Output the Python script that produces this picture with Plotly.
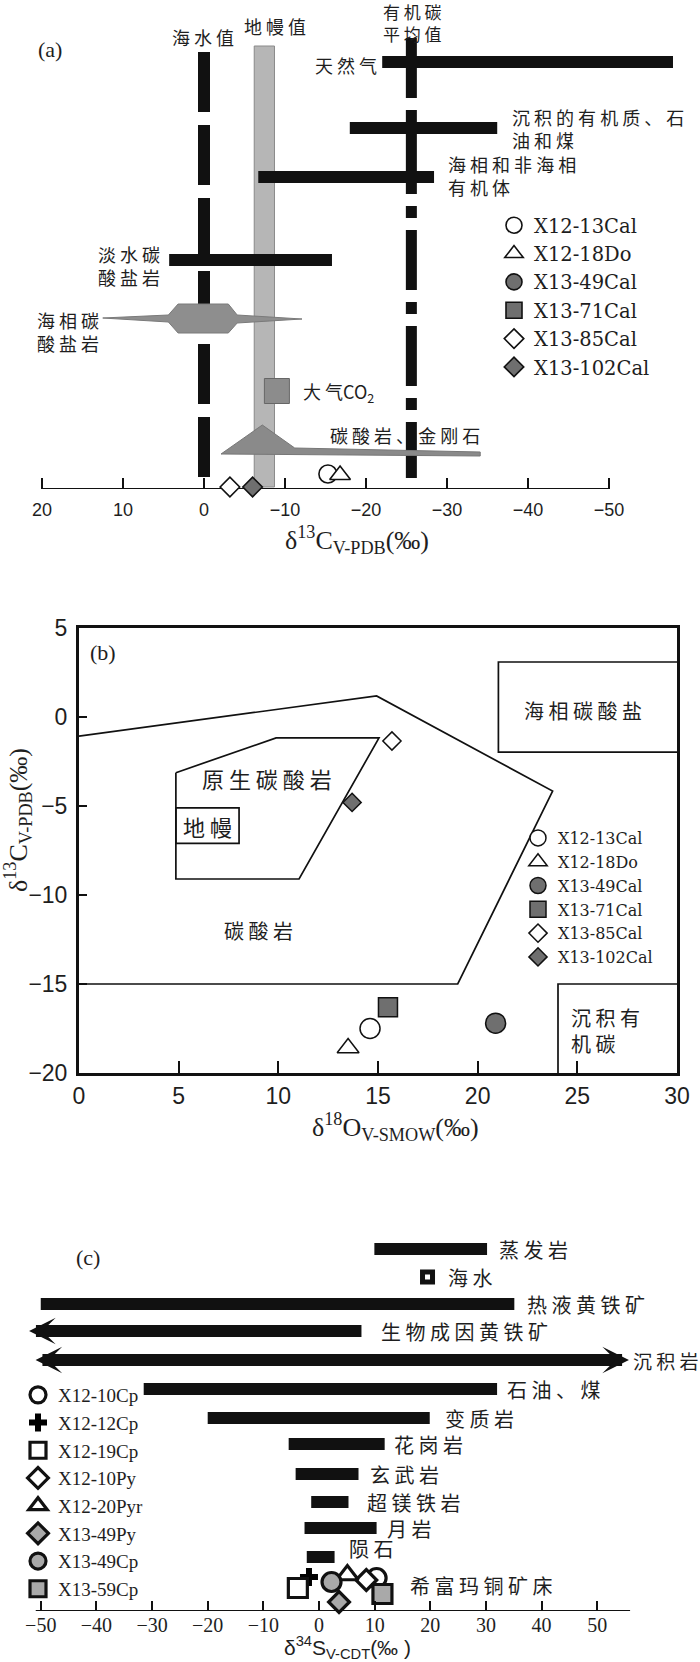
import plotly.graph_objects as go

# ============================================================
# Isotope diagrams (a) d13C  (b) d13C-d18O  (c) d34S
# ============================================================

W, H = 700, 1662

CJK = "Noto Sans CJK SC"
SERIF = "Liberation Serif"
SANS = "Liberation Sans"
INK = "#1e1e1e"

# -------------------------------------------------------
# (a) d13C reference values / ranges
# -------------------------------------------------------
a_range_labels = ["天然气", "沉积的有机质、石<br>油和煤", "海相和非海相<br>有机体", "淡水碳<br>酸盐岩"]
a_range_start = [-22.0, -18.0, -6.7, 4.3]
a_range_end = [-57.9, -36.2, -28.4, -15.8]

a_seawater = 0.0
a_mantle = [-6.2, -8.7]
a_organic_mean = -25.6
a_atm_co2 = -9.0

# gray spindles: marine carbonate and carbonatite / diamond
a_marine_d13c = [12.5, 4.4, 3.2, -3.0, -4.1, -12.1, -4.1, -3.0, 3.2, 4.4, 12.5]
a_marine_h = [171, 174, 185, 185, 174, 170, 166, 156, 156, 167, 171]
a_carbonatite_d13c = [-2.1, -7.2, -11.2, -34.1, -34.1, -2.1]
a_carbonatite_h = [35, 64, 41, 37, 33, 35]

a_ticks = [20, 10, 0, -10, -20, -30, -40, -50]

# samples
a_samples = ["X12-13Cal", "X12-18Do", "X13-49Cal", "X13-71Cal", "X13-85Cal", "X13-102Cal"]
a_d13c = [-15.3, -16.8, -16.4, -14.0, -3.2, -6.0]

# -------------------------------------------------------
# (b) d13C vs d18O
# -------------------------------------------------------
b_samples = a_samples
b_d18o = [14.6, 13.5, 20.9, 15.5, 15.7, 13.7]
b_d13c = [-17.5, -18.6, -17.2, -16.3, -1.35, -4.8]

b_carbonatite_x = [0, 14.93, 23.76, 19.0, 0]
b_carbonatite_y = [-1.07, 1.18, -4.16, -15.0, -15.0]
b_primary_x = [4.86, 9.89, 15.05, 11.04, 4.86, 4.86]
b_primary_y = [-3.13, -1.17, -1.17, -9.1, -9.1, -3.13]
b_mantle_x = [4.86, 8.03, 8.03, 4.86, 4.86]
b_mantle_y = [-5.1, -5.1, -7.1, -7.1, -5.1]
b_marine_x = [30, 21.04, 21.04, 30]
b_marine_y = [3.09, 3.09, -1.97, -1.97]
b_sedorg_x = [24.03, 24.03, 30]
b_sedorg_y = [-20, -15, -15]

# -------------------------------------------------------
# (c) d34S reference ranges and samples
# -------------------------------------------------------
c_range_labels = ["蒸发岩", "热液黄铁矿", "石油、煤", "变质岩", "花岗岩", "玄武岩", "超镁铁岩", "月岩", "陨石"]
c_range_start = [9.95, -50.0, -31.5, -20.0, -5.45, -4.2, -1.4, -2.6, -2.2]
c_range_end = [30.2, 35.1, 32.0, 19.9, 11.8, 7.1, 5.3, 10.35, 2.8]

c_seawater = 19.5
c_biogenic = [7.9, -52.1]      # open to the negative side
c_sediment = [-51.2, 55.7]     # open to both sides

c_ticks = [-50, -40, -30, -20, -10, 0, 10, 20, 30, 40, 50]

c_samples = ["X12-10Cp", "X12-12Cp", "X12-19Cp", "X12-10Py", "X12-20Pyr", "X13-49Py", "X13-49Cp", "X13-59Cp"]
c_d34s = [10.35, -1.8, -3.8, 8.5, 5.1, 3.6, 2.25, 11.4]

# -------------------------------------------------------
# layout helpers (vertical placement only)
# -------------------------------------------------------
A_AXIS_PX = 489          # pixel row of the (a) axis line
C_AXIS_PX = 1611         # pixel row of the (c) axis line
A_ROWS = [427, 361, 312, 229]
A_SAMPLE_ROWS = [15, 14, -1, -8, 2, 2]
C_ROWS = [362, 307, 222, 193, 167, 137, 109, 83, 54]
C_SAMPLE_ROWS = [33, 34, 23, 31, 36, 9, 29, 17]

GRAY_A = "#6f6f6f"
GRAY_C = "#a9a9a9"

STYLE_A = {
    "X12-13Cal": ("circle", "white", 18),
    "X12-18Do": ("triangle-up", "white", 18),
    "X13-49Cal": ("circle", GRAY_A, 19),
    "X13-71Cal": ("square", GRAY_A, 16),
    "X13-85Cal": ("diamond", "white", 15),
    "X13-102Cal": ("diamond", GRAY_A, 15),
}
STYLE_B = {
    "X12-13Cal": ("circle", "white", 20),
    "X12-18Do": ("triangle-up", "white", 19),
    "X13-49Cal": ("circle", GRAY_A, 20),
    "X13-71Cal": ("square", GRAY_A, 19),
    "X13-85Cal": ("diamond", "white", 14),
    "X13-102Cal": ("diamond", GRAY_A, 14),
}
STYLE_C = {
    "X12-10Cp": ("circle", "white", 19),
    "X12-12Cp": ("cross", "black", 15),
    "X12-19Cp": ("square", "white", 19),
    "X12-10Py": ("diamond", "white", 16),
    "X12-20Pyr": ("triangle-up", "white", 19),
    "X13-49Py": ("diamond", GRAY_C, 16),
    "X13-49Cp": ("circle", GRAY_C, 19),
    "X13-59Cp": ("square", GRAY_C, 19),
}


def spaced(text):
    return "<br>".join(" ".join(line) for line in text.split("<br>"))


def segments(starts, ends, rows):
    xs, ys = [], []
    for s, e, r in zip(starts, ends, rows):
        xs += [s, e, None]
        ys += [r, r, None]
    return xs, ys


fig = go.Figure()

# ============================================================
# (a)
# ============================================================
fig.add_trace(go.Scatter(
    x=[a_mantle[0], a_mantle[1], a_mantle[1], a_mantle[0], a_mantle[0]],
    y=[2, 2, 443, 443, 2], fill="toself", mode="lines",
    fillcolor="#b6b6b6", line=dict(color="#8a8a8a", width=1),
    showlegend=False, hoverinfo="skip", xaxis="x", yaxis="y"))

fig.add_trace(go.Scatter(
    x=[a_seawater, a_seawater], y=[437, 11], mode="lines",
    line=dict(color="#111", width=12, dash="60px,13px"),
    showlegend=False, hoverinfo="skip", xaxis="x", yaxis="y"))
fig.add_trace(go.Scatter(
    x=[a_organic_mean, a_organic_mean], y=[451, 11], mode="lines",
    line=dict(color="#111", width=11, dash="60px,12px,12px,12px"),
    showlegend=False, hoverinfo="skip", xaxis="x", yaxis="y"))

bx, by = segments(a_range_start, a_range_end, A_ROWS)
fig.add_trace(go.Scatter(
    x=bx, y=by, mode="lines", line=dict(color="#111", width=12),
    showlegend=False, hoverinfo="skip", xaxis="x", yaxis="y"))

fig.add_trace(go.Scatter(
    x=a_marine_d13c, y=a_marine_h, fill="toself", mode="lines",
    fillcolor="#8e8e8e", line=dict(color="#7a7a7a", width=1),
    showlegend=False, hoverinfo="skip", xaxis="x", yaxis="y"))
fig.add_trace(go.Scatter(
    x=a_carbonatite_d13c, y=a_carbonatite_h, fill="toself", mode="lines",
    fillcolor="#8a8a8a", line=dict(color="#777", width=1),
    showlegend=False, hoverinfo="skip", xaxis="x", yaxis="y"))
fig.add_trace(go.Scatter(
    x=[a_atm_co2], y=[98], mode="markers",
    marker=dict(symbol="square", size=25, color="#8c8c8c", line=dict(color="#666", width=1)),
    showlegend=False, hoverinfo="skip", xaxis="x", yaxis="y"))

# axis line of (a)
fig.add_trace(go.Scatter(
    x=[a_ticks[0], a_ticks[-1]], y=[0, 0], mode="lines",
    line=dict(color="#111", width=2), showlegend=False, hoverinfo="skip",
    xaxis="x", yaxis="y"))

for name, v, r in zip(a_samples, a_d13c, A_SAMPLE_ROWS):
    sym, col, size = STYLE_A[name]
    fig.add_trace(go.Scatter(
        x=[v], y=[r], mode="markers", name=name, legend="legend",
        marker=dict(symbol=sym, size=size, color=col, line=dict(color="#111", width=1.6)),
        cliponaxis=False, xaxis="x", yaxis="y"))

# ============================================================
# (b)
# ============================================================
for xs, ys in [(b_carbonatite_x, b_carbonatite_y), (b_primary_x, b_primary_y),
               (b_mantle_x, b_mantle_y), (b_marine_x, b_marine_y),
               (b_sedorg_x, b_sedorg_y)]:
    fig.add_trace(go.Scatter(
        x=xs, y=ys, mode="lines", line=dict(color="#111", width=1.7),
        showlegend=False, hoverinfo="skip", xaxis="x2", yaxis="y2"))

for name, xo, yc in zip(b_samples, b_d18o, b_d13c):
    sym, col, size = STYLE_B[name]
    fig.add_trace(go.Scatter(
        x=[xo], y=[yc], mode="markers", name=name, legend="legend2",
        marker=dict(symbol=sym, size=size, color=col, line=dict(color="#111", width=1.5)),
        cliponaxis=False, xaxis="x2", yaxis="y2"))

# ============================================================
# (c)
# ============================================================
cx, cy = segments(c_range_start, c_range_end, C_ROWS)
fig.add_trace(go.Scatter(
    x=cx, y=cy, mode="lines", line=dict(color="#111", width=12),
    showlegend=False, hoverinfo="skip", xaxis="x3", yaxis="y3"))
fig.add_trace(go.Scatter(
    x=[c_seawater], y=[334], mode="markers",
    marker=dict(symbol="square-open", size=10, color="#111", line=dict(width=5)),
    showlegend=False, hoverinfo="skip", xaxis="x3", yaxis="y3"))
fig.add_trace(go.Scatter(
    x=[c_ticks[0] - 0.9, 55.9], y=[0, 0], mode="lines",
    line=dict(color="#111", width=2), showlegend=False, hoverinfo="skip",
    xaxis="x3", yaxis="y3"))

for name, v, r in zip(c_samples, c_d34s, C_SAMPLE_ROWS):
    sym, col, size = STYLE_C[name]
    lw = 0 if sym == "cross" else 3.2
    fig.add_trace(go.Scatter(
        x=[v], y=[r], mode="markers", name=name, legend="legend3",
        marker=dict(symbol=sym, size=size, color=col, line=dict(color="#111", width=lw)),
        cliponaxis=False, xaxis="x3", yaxis="y3"))

# ============================================================
# annotations
# ============================================================
ann = []


def label(text, x, y, ref, size=18, anchor="left", font=CJK, align="left", angle=0):
    ann.append(dict(text=text, x=x, y=y, xref="x" + ref, yref="y" + ref,
                    showarrow=False, xanchor=anchor, yanchor="middle", align=align,
                    textangle=angle, font=dict(family=font, size=size, color=INK)))


def py(px):
    return 1 - px / H


def title(text, xpx, ypx, size, font, angle=0, yanchor="middle"):
    ann.append(dict(text=text, x=xpx / W, y=py(ypx), xref="paper", yref="paper",
                    showarrow=False, xanchor="center", yanchor=yanchor,
                    textangle=angle, font=dict(family=font, size=size, color=INK)))


# (a) labels
label(spaced("海水值"), 0.1, 452, "", anchor="center")
label(spaced("地幔值"), -8.8, 463, "", anchor="center")
label(spaced("有机碳<br>平均值"), -25.7, 467, "", size=17, anchor="center", align="center")
label("(a)", 20.7, 440, "", size=22, font=SERIF)
label(spaced(a_range_labels[0]), -21.6, 424, "", anchor="right")
label(spaced(a_range_labels[1]), -37.8, 361, "")
label(spaced(a_range_labels[2]), -29.9, 314, "")
label(spaced(a_range_labels[3]), 5.2, 224, "", anchor="right", align="left")
label(spaced("海相碳<br>酸盐岩"), 12.7, 158, "", anchor="right", align="left")
label("大 气CO<sub>2</sub>", -12.0, 97, "")
label(spaced("碳酸岩、金刚石"), -15.3, 54, "")
title("δ<sup>13</sup>C<sub>V-PDB</sub>(‰)", 357, 540, 26, SERIF)

# (b) labels
label("(b)", 0.45, 3.6, "2", size=22, font=SERIF)
label(spaced("原生碳酸岩"), 9.43, -3.43, "2", size=22, anchor="center")
label(spaced("地幔"), 6.45, -6.12, "2", size=22, anchor="center")
label(spaced("碳酸岩"), 8.98, -11.97, "2", size=20, anchor="center")
label(spaced("海相碳酸盐"), 25.3, 0.34, "2", size=20, anchor="center")
label(spaced("沉积有<br>机碳"), 24.6, -17.64, "2", size=20)
title("δ<sup>18</sup>O<sub>V-SMOW</sub>(‰)", 395, 1127, 26, SERIF)
title("δ<sup>13</sup>C<sub>V-PDB</sub>(‰)", 18, 820, 26, SERIF, angle=-90)

# (c) labels
label("(c)", -44.0, 354, "3", size=22, font=SERIF)
c_label_x = [32.0, 37.0, 33.5, 22.2, 13.1, 8.8, 8.2, 11.9, 5.1]
c_label_y = [362, 307, 222, 193, 167, 137, 109, 83, 63]
for t, lx, ly in zip(c_range_labels, c_label_x, c_label_y):
    label(spaced(t), lx, ly, "3", size=20)
label(spaced("海水"), 22.9, 334, "3", size=20)
label(spaced("生物成因黄铁矿"), 10.8, 280, "3", size=20)
label(spaced("沉积岩"), 56.1, 251, "3", size=19)
label(spaced("希富玛铜矿床"), 16.0, 26, "3", size=20)
title("δ<sup>34</sup>S<sub>V-CDT</sub>(‰ )", 347, H + 2, 21, SANS, yanchor="bottom")

# (c) arrows
ann.append(dict(x=c_biogenic[1], y=280, ax=c_biogenic[0], ay=280,
                xref="x3", yref="y3", axref="x3", ayref="y3", text="",
                showarrow=True, arrowhead=3, arrowsize=0.37, arrowwidth=12,
                arrowcolor="#111"))
ann.append(dict(x=c_sediment[1], y=251, ax=c_sediment[0], ay=251,
                xref="x3", yref="y3", axref="x3", ayref="y3", text="",
                showarrow=True, arrowhead=3, arrowsize=0.37, arrowwidth=12,
                arrowside="end+start", startarrowhead=3, startarrowsize=0.37,
                arrowcolor="#111"))

# ============================================================
# axes
# ============================================================
tick_common = dict(showgrid=False, zeroline=False, ticks="inside",
                   tickcolor="#111", tickwidth=1.5)

legend_common = dict(bgcolor="rgba(0,0,0,0)", borderwidth=0, xanchor="left",
                     yanchor="top", traceorder="normal")

fig.update_layout(
    width=W, height=H,
    margin=dict(l=0, r=0, t=0, b=0, autoexpand=False),
    paper_bgcolor="white", plot_bgcolor="rgba(0,0,0,0)",
    xaxis=dict(domain=[0, 1], range=[204 / 8.1, (204 - 700) / 8.1], anchor="y",
               showline=False, ticklen=11, tickvals=a_ticks,
               ticklabelstandoff=8,
               tickfont=dict(family=SANS, size=18, color=INK), **tick_common),
    yaxis=dict(domain=[py(A_AXIS_PX), 1], range=[0, A_AXIS_PX], visible=False),
    xaxis2=dict(domain=[79 / W, 677 / W], range=[0, 30], anchor="y2",
                showline=True, mirror=True, linewidth=3, linecolor="#111",
                ticklen=12, tickvals=[0, 5, 10, 15, 20, 25, 30],
                ticklabelstandoff=0,
                tickfont=dict(family=SANS, size=23, color=INK), **tick_common),
    yaxis2=dict(domain=[py(1073), py(628)], range=[-20, 5], anchor="x2",
                showline=True, mirror=True, linewidth=3, linecolor="#111",
                ticklen=8, tickvals=[5, 0, -5, -10, -15, -20],
                ticklabelstandoff=4,
                tickfont=dict(family=SANS, size=23, color=INK), **tick_common),
    xaxis3=dict(domain=[0, 1], range=[-319 / 5.565, (700 - 319) / 5.565], anchor="y3",
                showline=False, ticklen=10, tickvals=c_ticks,
                ticklabelstandoff=0,
                tickfont=dict(family=SERIF, size=20, color=INK), **tick_common),
    yaxis3=dict(domain=[py(C_AXIS_PX), py(1200)], range=[0, C_AXIS_PX - 1200], visible=False),
    annotations=ann,
    legend=dict(x=494 / W, y=py(206), font=dict(family="DejaVu Serif", size=19.5, color=INK),
                **legend_common),
    legend2=dict(x=518 / W, y=py(821), font=dict(family="DejaVu Serif", size=16, color=INK),
                 **legend_common),
    legend3=dict(x=18 / W, y=py(1376), font=dict(family=SERIF, size=19, color=INK),
                 **legend_common),
)

# the page's default body margin would shift the figure by 8px
fig.write_html("out.html", config={"displayModeBar": False},
               post_script="document.body.style.margin='0';")
